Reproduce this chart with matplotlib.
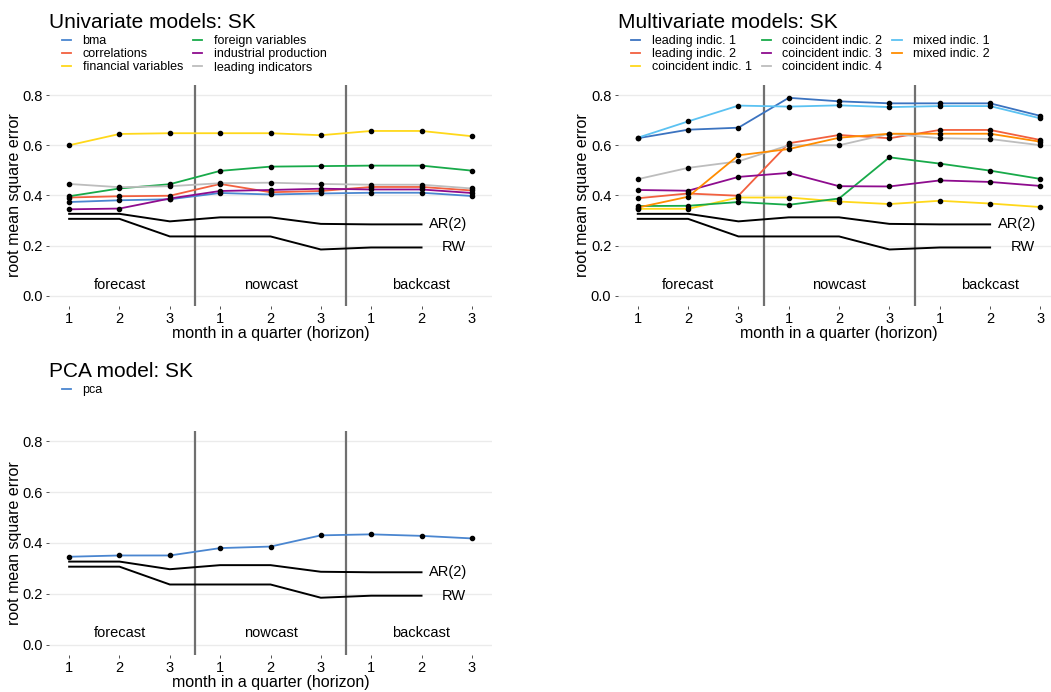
import matplotlib
matplotlib.use("Agg")
import matplotlib.pyplot as plt

plt.rcParams["font.family"] = ["Liberation Sans", "DejaVu Sans"]

horizon = [1, 2, 3, 4, 5, 6, 7, 8, 9]
tick_labels = ["1", "2", "3", "1", "2", "3", "1", "2", "3"]

# benchmarks (same in all panels), drawn to month 8
bench_x = [1, 2, 3, 4, 5, 6, 7, 8]
ar2 = [0.327, 0.327, 0.297, 0.313, 0.313, 0.287, 0.285, 0.285]
rw = [0.307, 0.307, 0.237, 0.237, 0.237, 0.185, 0.193, 0.193]

# univariate models
bma = [0.374, 0.381, 0.385, 0.410, 0.404, 0.408, 0.411, 0.411, 0.398]
correlations = [0.392, 0.397, 0.399, 0.446, 0.413, 0.418, 0.434, 0.434, 0.420]
financial_variables = [0.600, 0.645, 0.648, 0.648, 0.648, 0.640, 0.657, 0.657, 0.636]
foreign_variables = [0.397, 0.428, 0.445, 0.498, 0.515, 0.517, 0.519, 0.519, 0.499]
industrial_production = [0.345, 0.348, 0.388, 0.418, 0.422, 0.427, 0.424, 0.424, 0.410]
leading_indicators = [0.446, 0.433, 0.437, 0.449, 0.451, 0.446, 0.443, 0.443, 0.428]

# multivariate models
leading_1 = [0.628, 0.662, 0.670, 0.789, 0.775, 0.767, 0.767, 0.767, 0.717]
leading_2 = [0.389, 0.408, 0.399, 0.608, 0.641, 0.628, 0.661, 0.661, 0.621]
coincident_1 = [0.347, 0.347, 0.392, 0.392, 0.376, 0.366, 0.379, 0.368, 0.354]
coincident_2 = [0.358, 0.359, 0.374, 0.363, 0.388, 0.552, 0.527, 0.499, 0.466]
coincident_3 = [0.422, 0.419, 0.474, 0.490, 0.437, 0.436, 0.460, 0.454, 0.438]
coincident_4 = [0.465, 0.510, 0.536, 0.600, 0.600, 0.646, 0.628, 0.625, 0.600]
mixed_1 = [0.630, 0.695, 0.758, 0.754, 0.759, 0.752, 0.756, 0.756, 0.707]
mixed_2 = [0.352, 0.395, 0.560, 0.585, 0.630, 0.646, 0.646, 0.646, 0.614]

# pca model
pca = [0.346, 0.351, 0.351, 0.380, 0.386, 0.430, 0.434, 0.428, 0.418]

BLUE = "#4A86D0"
RED = "#F2603F"
YELLOW = "#FFD81A"
GREEN = "#18AA4A"
PURPLE = "#8E0C8E"
GREY = "#BDBDBD"
DBLUE = "#3B73C0"
LBLUE = "#5BC2F2"
ORANGE = "#FF8C00"

W, H = 1051, 692
fig = plt.figure(figsize=(W / 100, H / 100), dpi=100)


def px_axes(left, top, right, bottom):
    return fig.add_axes([left / W, 1 - bottom / H, (right - left) / W, (bottom - top) / H])


def draw_panel(ax, series, title, title_xy, leg_anchor, ncol):
    for label, vals, col in series:
        ax.plot(horizon, vals, color=col, lw=1.3, label=label, zorder=3)
        ax.scatter(horizon, vals, s=9, color="black", zorder=4)
    ax.plot(bench_x, ar2, color="black", lw=1.4, zorder=2)
    ax.plot(bench_x, rw, color="black", lw=1.4, zorder=2)
    ax.text(8.15, ar2[-1], "AR(2)", fontsize=10.5, va="center", ha="left")
    ax.text(8.4, rw[-1], "RW", fontsize=10.5, va="center", ha="left")
    for xv in (3.5, 6.5):
        ax.axvline(xv, color="#707070", lw=1.6, zorder=1)
    for xv, lab in zip((2, 5, 8), ("forecast", "nowcast", "backcast")):
        ax.text(xv, 0.045, lab, fontsize=10.5, ha="center", va="center")

    ax.set_xlim(0.6, 9.4)
    ax.set_ylim(-0.04, 0.84)
    ax.set_yticks([0.0, 0.2, 0.4, 0.6, 0.8])
    ax.set_yticklabels(["0.0", "0.2", "0.4", "0.6", "0.8"])
    ax.set_xticks(horizon)
    ax.set_xticklabels(tick_labels)
    ax.tick_params(labelsize=10.5, length=2.5, width=0.6, color="#333333", pad=2)
    ax.grid(axis="y", color="#EBEBEB", lw=1.0)
    ax.set_axisbelow(True)
    for s in ax.spines.values():
        s.set_visible(False)
    ax.set_xlabel("month in a quarter (horizon)", fontsize=11.5, labelpad=0)
    ax.set_ylabel("root mean square error", fontsize=11.5, labelpad=0.5)

    fig.text(title_xy[0] / W, 1 - title_xy[1] / H, title, fontsize=15, ha="left", va="baseline")
    ax.legend(loc="upper left", bbox_to_anchor=(leg_anchor[0] / W, 1 - leg_anchor[1] / H),
              bbox_transform=fig.transFigure, ncol=ncol, frameon=False, fontsize=9,
              handlelength=0.75, handletextpad=0.9, columnspacing=0.8, labelspacing=0.1,
              borderaxespad=0, borderpad=0)


ax1 = px_axes(49, 85, 492, 306)
draw_panel(ax1, [
    ("bma", bma, BLUE),
    ("correlations", correlations, RED),
    ("financial variables", financial_variables, YELLOW),
    ("foreign variables", foreign_variables, GREEN),
    ("industrial production", industrial_production, PURPLE),
    ("leading indicators", leading_indicators, GREY),
], "Univariate models: SK", (49, 28), (62, 35), 2)

ax2 = px_axes(617.6, 85, 1060.6, 306)
draw_panel(ax2, [
    ("leading indic. 1", leading_1, DBLUE),
    ("leading indic. 2", leading_2, RED),
    ("coincident indic. 1", coincident_1, YELLOW),
    ("coincident indic. 2", coincident_2, GREEN),
    ("coincident indic. 3", coincident_3, PURPLE),
    ("coincident indic. 4", coincident_4, GREY),
    ("mixed indic. 1", mixed_1, LBLUE),
    ("mixed indic. 2", mixed_2, ORANGE),
], "Multivariate models: SK", (618, 28), (631, 35), 3)

ax3 = px_axes(49, 431, 492, 655)
draw_panel(ax3, [("pca", pca, BLUE)], "PCA model: SK", (49, 377), (62, 384), 1)

fig.savefig("out.png", dpi=100)
